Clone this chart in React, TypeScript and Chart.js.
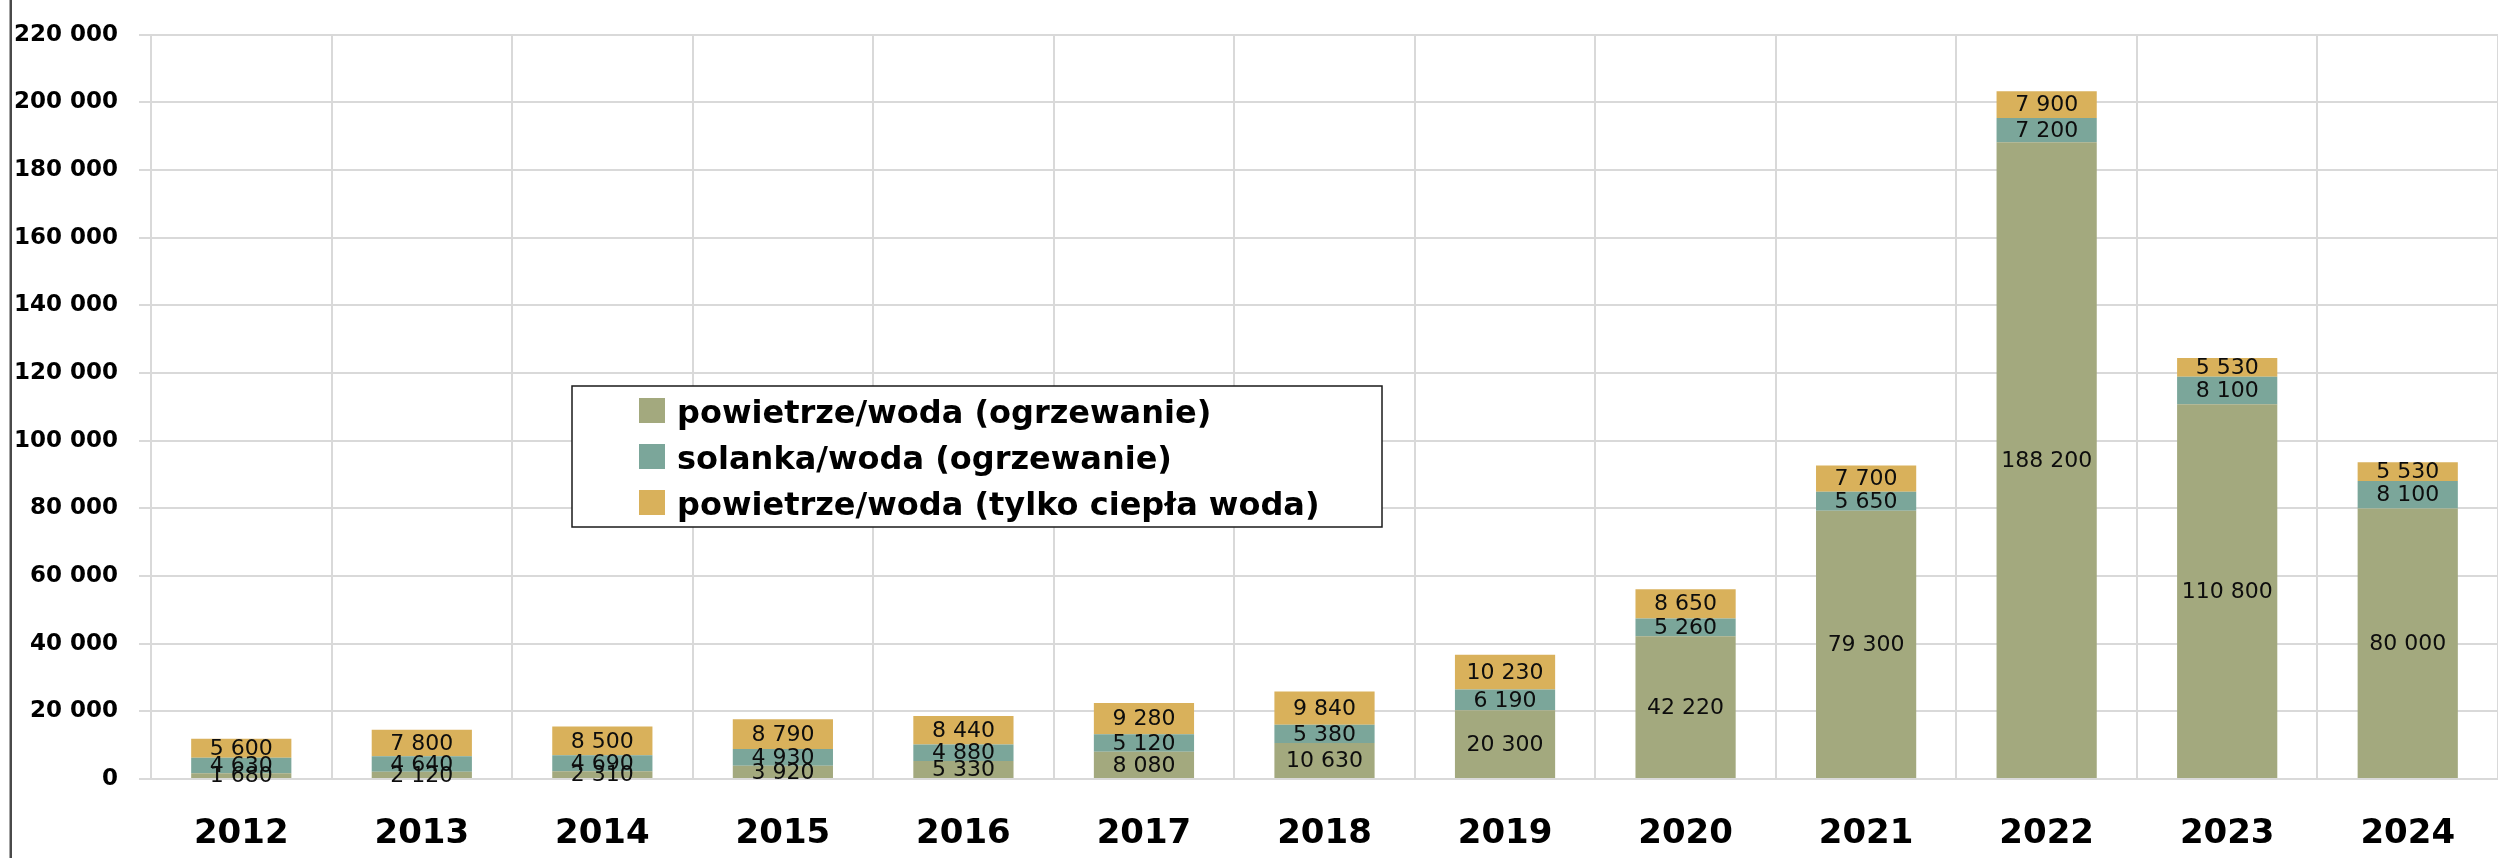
import React, { useEffect, useRef } from 'react';
import { Chart, registerables } from 'chart.js';

Chart.register(...registerables);

const years = ['2012', '2013', '2014', '2015', '2016', '2017', '2018', '2019', '2020', '2021', '2022', '2023', '2024'];
const airWaterHeating = [1680, 2120, 2310, 3920, 5330, 8080, 10630, 20300, 42220, 79300, 188200, 110800, 80000];
const brineWaterHeating = [4630, 4640, 4690, 4930, 4880, 5120, 5380, 6190, 5260, 5650, 7200, 8100, 8100];
const airWaterHotWater = [5600, 7800, 8500, 8790, 8440, 9280, 9840, 10230, 8650, 7700, 7900, 5530, 5530];
const seriesLabels = [
  'powietrze/woda (ogrzewanie)',
  'solanka/woda (ogrzewanie)',
  'powietrze/woda (tylko ciepła woda)',
];
const seriesColors = ['#A3A97E', '#7BA69A', '#D9B15B'];
const yMin = 0;
const yMax = 220000;
const yStep = 20000;

const W = 2498;
const H = 858;

const fmt = (v: number) => String(v).replace(/\B(?=(\d{3})+(?!\d))/g, ' ');

const dataLabelPlugin = {
  id: 'dataLabels',
  afterDatasetsDraw(chart: any) {
    const ctx = chart.ctx;
    ctx.save();
    ctx.font = '22px "DejaVu Sans"';
    ctx.fillStyle = '#0d0d0d';
    ctx.textAlign = 'center';
    ctx.textBaseline = 'middle';
    chart.data.datasets.forEach((ds: any, i: number) => {
      const meta = chart.getDatasetMeta(i);
      meta.data.forEach((bar: any, j: number) => {
        const v = ds.data[j];
        const p = bar.getProps(['x', 'y', 'base'], true);
        ctx.fillText(fmt(v), p.x, (p.y + p.base) / 2 + 1);
      });
    });
    ctx.restore();
  },
};

const framePlugin = {
  id: 'frameAndLegend',
  afterDraw(chart: any) {
    const ctx = chart.ctx;
    ctx.save();
    // left frame line
    ctx.fillStyle = '#4a4a4a';
    ctx.fillRect(9.5, 0, 2.5, H);
    // legend box
    const bx = 572, by = 386, bw = 810, bh = 141;
    ctx.fillStyle = '#ffffff';
    ctx.fillRect(bx, by, bw, bh);
    ctx.strokeStyle = '#1a1a1a';
    ctx.lineWidth = 1.5;
    ctx.strokeRect(bx, by, bw, bh);
    ctx.font = 'bold 32px "DejaVu Sans"';
    ctx.textAlign = 'left';
    ctx.textBaseline = 'alphabetic';
    chart.data.datasets.forEach((ds: any, i: number) => {
      const baseline = 423 + i * 46;
      ctx.fillStyle = ds.backgroundColor;
      ctx.fillRect(639, baseline - 25, 26, 25);
      ctx.fillStyle = '#000000';
      ctx.fillText(ds.label, 677, baseline);
    });
    ctx.restore();
  },
};

export default function App() {
  const ref = useRef<HTMLCanvasElement | null>(null);

  useEffect(() => {
    if (!ref.current) return;
    const chart = new Chart(ref.current, {
      type: 'bar',
      data: {
        labels: years,
        datasets: [
          { label: seriesLabels[0], data: airWaterHeating, backgroundColor: seriesColors[0] },
          { label: seriesLabels[1], data: brineWaterHeating, backgroundColor: seriesColors[1] },
          { label: seriesLabels[2], data: airWaterHotWater, backgroundColor: seriesColors[2] },
        ],
      },
      options: {
        responsive: false,
        animation: false,
        devicePixelRatio: 1,
        layout: { padding: { top: 22, right: 0, bottom: 0, left: 0 } },
        datasets: {
          bar: { categoryPercentage: 1, barPercentage: 0.555, borderWidth: 0 },
        },
        plugins: {
          legend: { display: false },
          tooltip: { enabled: false },
        },
        scales: {
          x: {
            stacked: true,
            grid: { color: '#D9D9D9', lineWidth: 2, drawTicks: false, offset: true },
            border: { color: '#D9D9D9', width: 2 },
            ticks: {
              color: '#000000',
              font: { family: '"DejaVu Sans"', weight: 'bold', size: 34 },
              padding: 35,
              maxRotation: 0,
            },
            afterFit(scale: any) {
              scale.height = H - 779;
            },
          },
          y: {
            stacked: true,
            min: yMin,
            max: yMax,
            grid: { color: '#D9D9D9', lineWidth: 2, drawTicks: true, tickLength: 12 },
            border: { color: '#D9D9D9', width: 2 },
            ticks: {
              stepSize: yStep,
              color: '#000000',
              font: { family: '"DejaVu Sans"', weight: 'bold', size: 23 },
              padding: 21,
              callback: (v: any) => fmt(Number(v)),
            },
            afterFit(scale: any) {
              scale.width = 151;
            },
          },
        },
      },
      plugins: [dataLabelPlugin, framePlugin],
    } as any);
    return () => chart.destroy();
  }, []);

  return (
    <div style={{ position: 'fixed', left: 0, top: 0, width: W, height: H, background: '#ffffff' }}>
      <canvas ref={ref} width={W} height={H} style={{ width: W, height: H, display: 'block' }} />
    </div>
  );
}
